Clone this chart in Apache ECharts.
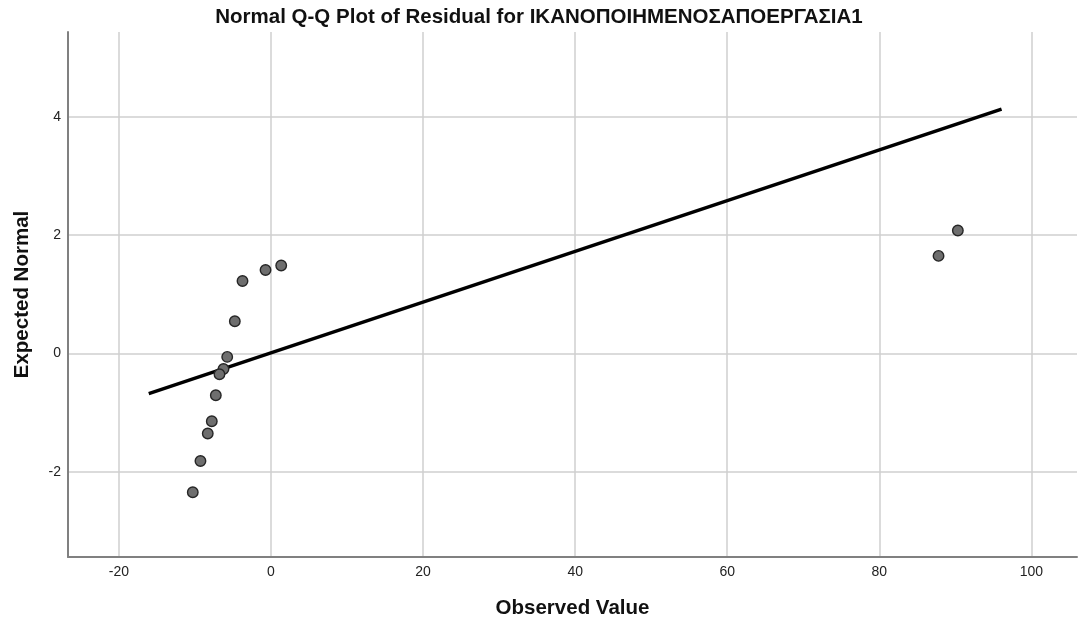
<!DOCTYPE html>
<html>
<head>
<meta charset="utf-8">
<script src="https://cdn.jsdelivr.net/npm/echarts@6/dist/echarts.min.js"></script>
<style>html,body{margin:0;padding:0;background:#fff;}#c{width:1078px;height:626px;}</style>
</head>
<body>
<div id="c"></div>
<script>
// Observed residual values and expected normal quantiles
var observed = [1.34, -0.72, -3.75, -4.76, -5.76, -6.25, -6.78, -7.26, -7.79, -8.32, -9.28, -10.29, 90.33, 87.79];
var expected = [1.486, 1.412, 1.226, 0.546, -0.057, -0.26, -0.35, -0.704, -1.144, -1.351, -1.814, -2.343, 2.078, 1.649];
// Reference line endpoints
var lineX = [-16.08, 96.08];
var lineY = [-0.676, 4.127];
var xTicks = [-20, 0, 20, 40, 60, 80, 100];
var yTicks = [-2, 0, 2, 4];

var points = observed.map(function (v, i) { return [v, expected[i]]; });
var linePts = lineX.map(function (v, i) { return [v, lineY[i]]; });
var FONT = 'Liberation Sans, Arial, sans-serif';

var chart = echarts.init(document.getElementById('c'), null, {renderer: 'canvas'});
chart.setOption({
  animation: false,
  backgroundColor: '#ffffff',
  title: {
    text: 'Normal Q-Q Plot of Residual for ΙΚΑΝΟΠΟΙΗΜΕΝΟΣΑΠΟΕΡΓΑΣΙΑ1',
    left: 'center',
    top: 2,
    textStyle: {fontFamily: FONT, fontSize: 20.5, fontWeight: 'bold', color: '#111'}
  },
  grid: {left: 68, right: 1, top: 32, bottom: 69, containLabel: false},
  xAxis: {
    type: 'value',
    min: -26.7,
    max: 106,
    name: 'Observed Value',
    nameLocation: 'middle',
    nameGap: 41,
    nameTextStyle: {fontFamily: FONT, fontSize: 20.5, fontWeight: 'bold', color: '#111'},
    axisLine: {show: true, onZero: false, lineStyle: {color: '#808080', width: 2}},
    axisTick: {show: false, customValues: xTicks},
    axisLabel: {customValues: xTicks, margin: 8, fontFamily: FONT, fontSize: 14, color: '#222'},
    splitLine: {show: true, lineStyle: {color: '#cfcfcf', width: 1.5}}
  },
  yAxis: {
    type: 'value',
    min: -3.436,
    max: 5.43,
    name: 'Expected Normal',
    nameLocation: 'middle',
    nameGap: 35,
    nameTextStyle: {fontFamily: FONT, fontSize: 20.5, fontWeight: 'bold', color: '#111'},
    axisLine: {show: true, onZero: false, lineStyle: {color: '#808080', width: 2}},
    axisTick: {show: false, customValues: yTicks},
    axisLabel: {customValues: yTicks, margin: 7, fontFamily: FONT, fontSize: 14, color: '#222'},
    splitLine: {show: true, lineStyle: {color: '#cfcfcf', width: 1.5}}
  },
  series: [
    {
      type: 'line',
      data: linePts,
      symbol: 'none',
      lineStyle: {color: '#000', width: 3.5},
      z: 3
    },
    {
      type: 'scatter',
      data: points,
      symbol: 'circle',
      symbolSize: 10.5,
      itemStyle: {color: '#6e6e6e', borderColor: '#262626', borderWidth: 1.4, opacity: 1},
      z: 4
    }
  ]
});
</script>
</body>
</html>
